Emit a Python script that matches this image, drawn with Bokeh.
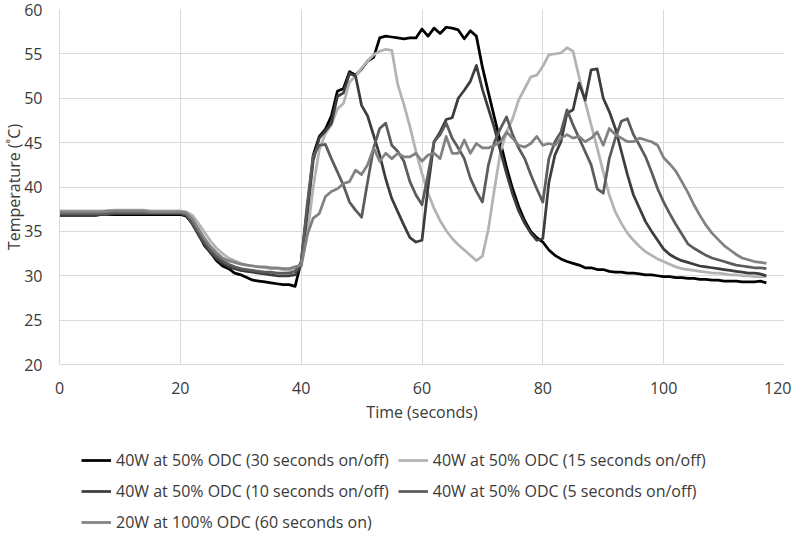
from bokeh.plotting import figure
from bokeh.models import Legend, LegendItem, FixedTicker, Range1d
from bokeh.layouts import column
from bokeh.embed import file_html
from bokeh.resources import INLINE

# ---- data ----
time_s = list(range(0, 118))

s30 = [36.8, 36.8, 36.8, 36.8, 36.8, 36.8, 36.8, 36.9, 36.9, 36.9, 36.9, 36.9, 36.9, 36.9, 36.9, 36.9, 36.9, 36.9, 36.9, 36.9, 36.9,
       36.7, 35.9, 34.8, 33.4, 32.6, 31.7, 31.1, 30.8, 30.3, 30.1, 29.8, 29.5, 29.4, 29.3, 29.2, 29.1, 29.0, 29.0, 28.8,
       31.6, 37.5, 43.6, 45.7, 46.5, 48.0, 50.8, 51.1, 53.0, 52.6, 53.3, 54.2, 54.6, 56.8, 57.0, 56.9, 56.8, 56.7, 56.8, 56.8,
       57.8, 57.0, 57.9, 57.3, 58.0, 57.9, 57.7, 56.7, 57.6, 57.0, 53.5, 50.6, 47.8, 45.0, 42.2, 39.8, 37.8, 36.2, 35.0, 34.3,
       33.8, 32.9, 32.3, 31.9, 31.6, 31.4, 31.2, 30.9, 30.9, 30.7, 30.7, 30.5, 30.4, 30.4, 30.3, 30.3, 30.2, 30.1, 30.1, 30.0,
       29.9, 29.9, 29.8, 29.8, 29.7, 29.7, 29.6, 29.6, 29.5, 29.5, 29.4, 29.4, 29.4, 29.3, 29.3, 29.3, 29.4, 29.2]

s15 = [37.3, 37.3, 37.3, 37.3, 37.3, 37.3, 37.3, 37.3, 37.3, 37.4, 37.4, 37.4, 37.4, 37.4, 37.4, 37.3, 37.3, 37.3, 37.3, 37.3, 37.3,
       37.2, 36.8, 35.9, 34.9, 33.9, 33.1, 32.5, 32.0, 31.7, 31.4, 31.2, 31.1, 31.0, 30.9, 30.8, 30.8, 30.7, 30.6, 30.8,
       31.0, 34.5, 40.0, 44.2, 46.0, 47.0, 48.8, 49.4, 51.8, 52.5, 53.4, 54.2, 54.9, 55.3, 55.5, 55.4, 51.5, 49.3, 46.8, 44.0,
       41.5, 39.3, 37.6, 36.2, 35.1, 34.2, 33.5, 32.9, 32.3, 31.7, 32.2, 35.3, 39.8, 44.0, 46.2, 47.7, 49.8, 51.1, 52.4, 52.6,
       53.6, 54.9, 55.0, 55.1, 55.7, 55.3, 52.4, 49.6, 47.0, 44.4, 41.7, 39.1, 37.2, 35.9, 34.8, 34.0, 33.3, 32.7, 32.3, 31.9,
       31.6, 31.3, 31.0, 30.8, 30.7, 30.6, 30.5, 30.4, 30.3, 30.3, 30.2, 30.1, 30.1, 30.0, 30.0, 29.9, 29.9, 29.9]

s10 = [36.9, 36.9, 36.9, 36.9, 36.9, 36.9, 36.9, 36.9, 36.9, 37.0, 37.0, 37.0, 37.0, 37.0, 37.0, 37.0, 37.0, 37.0, 37.0, 37.0, 37.0,
       36.8, 35.8, 34.6, 33.5, 32.6, 31.9, 31.4, 31.0, 30.8, 30.6, 30.5, 30.4, 30.3, 30.2, 30.1, 30.0, 30.0, 30.0, 30.1,
       31.2, 37.0, 43.0, 45.5, 46.3, 47.2, 50.2, 50.6, 52.8, 52.5, 49.2, 48.0, 45.8, 43.6, 40.9, 38.7, 37.2, 35.7, 34.3, 33.8,
       34.0, 40.0, 45.1, 46.2, 47.6, 47.8, 50.0, 50.9, 51.9, 53.7, 51.0, 48.8, 46.6, 44.0, 41.5, 39.2, 37.3, 35.9, 34.8, 34.0,
       34.2, 40.5, 43.6, 45.1, 48.3, 48.7, 51.7, 49.8, 53.2, 53.3, 50.0, 48.5, 46.6, 44.0, 41.4, 39.1, 37.6, 36.1, 35.0, 34.0,
       33.0, 32.4, 32.0, 31.7, 31.5, 31.3, 31.1, 31.0, 30.9, 30.8, 30.7, 30.6, 30.5, 30.4, 30.3, 30.3, 30.2, 30.0]

s5 = [37.0, 37.0, 37.0, 37.0, 37.0, 37.0, 37.0, 37.0, 37.0, 37.1, 37.1, 37.1, 37.1, 37.1, 37.1, 37.1, 37.1, 37.1, 37.1, 37.1, 37.1,
      36.9, 36.0, 34.9, 33.8, 32.9, 32.2, 31.7, 31.3, 31.0, 30.8, 30.7, 30.6, 30.5, 30.4, 30.4, 30.3, 30.3, 30.3, 30.5,
      31.5, 38.0, 43.5, 44.7, 44.8, 43.2, 41.7, 40.2, 38.3, 37.4, 36.6, 40.6, 44.4, 46.6, 47.2, 44.7, 44.0, 42.9, 40.6, 39.1,
      38.0, 41.4, 45.1, 45.9, 47.2, 45.5, 44.4, 43.2, 41.0, 39.5, 38.3, 42.5, 45.1, 46.6, 47.9, 45.9, 44.4, 43.2, 41.4, 39.8,
      38.3, 43.2, 45.1, 46.2, 48.7, 47.0, 45.5, 44.0, 42.5, 39.8, 39.3, 43.2, 45.5, 47.4, 47.7, 45.9, 44.7, 43.4, 41.7, 39.8,
      38.3, 37.0, 35.8, 34.7, 33.6, 33.1, 32.7, 32.3, 32.0, 31.8, 31.6, 31.4, 31.2, 31.1, 31.0, 30.9, 30.9, 30.8]

s60 = [37.2, 37.2, 37.2, 37.2, 37.2, 37.2, 37.2, 37.2, 37.3, 37.3, 37.3, 37.3, 37.3, 37.3, 37.3, 37.2, 37.2, 37.2, 37.2, 37.2, 37.2,
       37.1, 36.4, 35.3, 34.2, 33.3, 32.6, 32.0, 31.7, 31.5, 31.3, 31.2, 31.1, 31.0, 31.0, 30.9, 30.9, 30.8, 30.8, 31.0,
       31.2, 34.6, 36.5, 37.0, 38.9, 39.5, 39.8, 40.4, 40.6, 41.9, 41.4, 42.5, 44.4, 42.9, 43.8, 43.2, 43.8, 43.4, 43.4, 43.8,
       42.9, 43.6, 43.8, 43.2, 45.7, 43.8, 43.8, 45.3, 43.8, 44.9, 44.4, 44.4, 44.7, 45.1, 46.2, 45.5, 44.7, 44.5, 44.9, 45.7,
       44.7, 44.9, 44.7, 45.5, 45.9, 45.5, 45.7, 45.1, 45.5, 46.2, 44.7, 46.6, 45.9, 45.5, 45.1, 45.1, 45.5, 45.3, 45.1, 44.7,
       43.3, 42.6, 41.8, 40.6, 39.4, 38.0, 36.8, 35.7, 34.8, 34.1, 33.4, 32.9, 32.4, 32.0, 31.8, 31.6, 31.5, 31.4]

series_labels = ["40W at 50% ODC (30 seconds on/off)",
                 "40W at 50% ODC (15 seconds on/off)",
                 "40W at 50% ODC (10 seconds on/off)",
                 "40W at 50% ODC (5 seconds on/off)",
                 "20W at 100% ODC (60 seconds on)"]
series_values = [s30, s15, s10, s5, s60]
series_colors = ["#000000", "#b3b3b3", "#3d3d3d", "#5c5c5c", "#828282"]

x_ticks = [0, 20, 40, 60, 80, 100, 120]
y_ticks = [20, 25, 30, 35, 40, 45, 50, 55, 60]

FONT = "Open Sans"
TXT = "#3a3a3a"
GRID = "#d9d9d9"
LW = 2.75

# ---- main chart ----
p = figure(frame_width=725, frame_height=355, output_backend="svg", toolbar_location=None,
           x_range=Range1d(0, 120), y_range=Range1d(20, 60),
           min_border_left=52, min_border_right=7, min_border_top=9, min_border_bottom=72)
p.outline_line_color = None
p.background_fill_color = "white"
p.border_fill_color = "white"

for vals, col in zip(series_values, series_colors):
    p.line(time_s, vals, line_color=col, line_width=LW, line_join="round")

for ax in (p.xaxis[0], p.yaxis[0]):
    ax.axis_line_color = GRID
    ax.axis_line_width = 1
    ax.major_tick_line_color = None
    ax.minor_tick_line_color = None
    ax.major_label_text_font = FONT
    ax.major_label_text_font_size = "16px"
    ax.major_label_text_color = TXT
    ax.axis_label_text_font = FONT
    ax.axis_label_text_font_size = "16px"
    ax.axis_label_text_font_style = "normal"
    ax.axis_label_text_color = TXT

p.xaxis[0].major_label_standoff = 11
p.yaxis[0].major_label_standoff = 11
p.xaxis[0].ticker = FixedTicker(ticks=x_ticks)
p.yaxis[0].ticker = FixedTicker(ticks=y_ticks)
p.xaxis[0].axis_label = "Time (seconds)"
p.yaxis[0].axis_label = "Temperature (˚C)"
p.xaxis[0].axis_label_standoff = 4
p.yaxis[0].axis_label_standoff = -4

p.xgrid.ticker = FixedTicker(ticks=x_ticks)
p.ygrid.ticker = FixedTicker(ticks=y_ticks)
p.xgrid.grid_line_color = GRID
p.ygrid.grid_line_color = GRID

# ---- legend strip below the chart ----
lg = figure(width=784, height=99, output_backend="svg", toolbar_location=None,
            x_range=Range1d(0, 1), y_range=Range1d(0, 1),
            x_axis_type=None, y_axis_type=None, min_border=0)
lg.outline_line_color = None
lg.xgrid.visible = False
lg.ygrid.visible = False
items = []
for lab, col in zip(series_labels, series_colors):
    # off-range samples: only the legend swatch of this renderer is visible
    r = lg.line([5, 6], [5, 6], line_color=col, line_width=LW)
    items.append(LegendItem(label=lab, renderers=[r]))
legend = Legend(items=items, orientation="horizontal", ncols=2,
                label_text_font=FONT, label_text_font_size="16px", label_text_color=TXT,
                glyph_width=30, glyph_height=16, label_height=16, label_standoff=5,
                spacing=9, padding=0, margin=0, border_line_color=None,
                background_fill_alpha=0, location=(22, 2))
lg.add_layout(legend, "center")

layout = column(p, lg, spacing=0)
open("out.html", "w").write(file_html(layout, INLINE))
